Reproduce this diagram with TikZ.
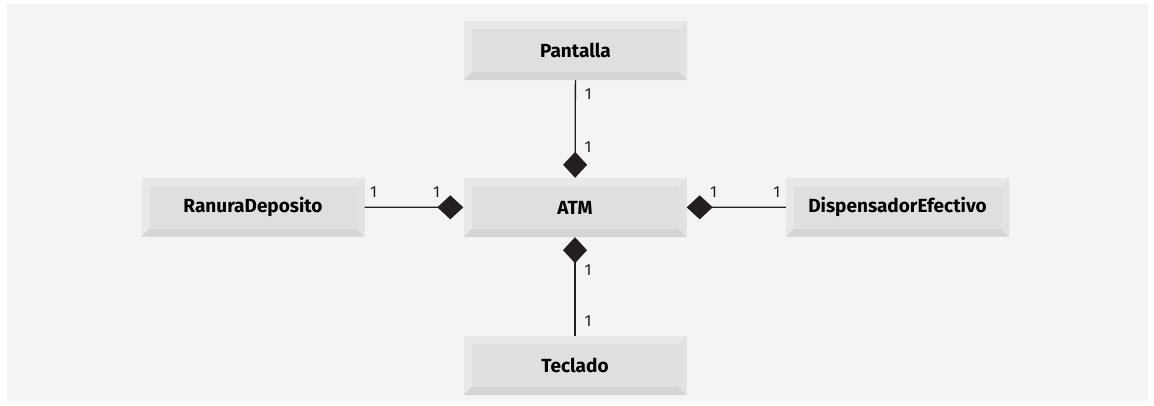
\documentclass[tikz,border=0pt]{standalone}
\usepackage{fontspec}
\usepackage{tikz}
\usetikzlibrary{arrows.meta}
\setsansfont{Fira Sans}
\definecolor{fondo}{HTML}{F4F4F4}
\definecolor{bevtop}{HTML}{E8E8E9}
\definecolor{bevbot}{HTML}{D5D5D6}
\definecolor{bevside}{HTML}{E2E2E3}
\definecolor{cara}{HTML}{DFDFE0}
\definecolor{tinta}{HTML}{231F20}
\tikzset{
  clase/.style={minimum width=223pt, minimum height=59pt, inner sep=0pt,
    fill=bevtop, text=black, font=\sffamily\bfseries\fontsize{19}{21}\selectfont,
    path picture={
      \path (path picture bounding box.south west) coordinate (bsw)
            (path picture bounding box.north east) coordinate (bne);
      \fill[bevbot] (bsw) -- (bsw -| bne) -- ([shift={(-8pt,8pt)}]bsw -| bne)
                    -- ([shift={(8pt,8pt)}]bsw) -- cycle;
      \fill[bevside] (bsw -| bne) -- (bne) -- ([shift={(-8pt,-8pt)}]bne)
                    -- ([shift={(-8pt,8pt)}]bsw -| bne) -- cycle;
      \fill[cara] ([shift={(8pt,8pt)}]bsw) rectangle ([shift={(-8pt,-8pt)}]bne);
    }},
  compo/.style={draw=tinta, line width=1.3pt, -{Diamond[length=26pt,width=24pt,fill=tinta]}},
  mult/.style={inner sep=0pt, text=tinta, font=\sffamily\fontsize{16}{17}\selectfont}
}

\begin{document}
\begin{tikzpicture}[x=1pt, y=-1pt]
  \useasboundingbox (0,0) rectangle (1154,405);
  \fill[fondo] (7,4) rectangle (1148,401);

  % clases
  \node[clase] (atm) at (575,207.5) {ATM};
  \node[clase] (pantalla) at (575.5,50.5) {Pantalla};
  \node[clase] (teclado) at (575,365.5) {Teclado};
  \node[clase] (ranura) at (253,207) {RanuraDeposito};
  \node[clase] (dispensador) at (897.5,207) {DispensadorEfectivo};

  % composiciones
  \draw[compo] (pantalla) -- (atm)
    node[mult, pos=0.14, xshift=13pt] (m1a) {1}
    node[mult, pos=0.69, xshift=13pt] (m1b) {1};
  \draw[compo] (teclado) -- (atm)
    node[mult, pos=0.15, xshift=13pt] (m2a) {1}
    node[mult, pos=0.67, xshift=13pt] (m2b) {1};
  \draw[compo] (ranura) -- (atm)
    node[mult, pos=0.09, yshift=15pt] (m3a) {1}
    node[mult, pos=0.73, yshift=15pt] (m3b) {1};
  \draw[compo] (dispensador) -- (atm)
    node[mult, pos=0.09, yshift=15pt] (m4a) {1}
    node[mult, pos=0.73, yshift=15pt] (m4b) {1};
\end{tikzpicture}
\end{document}
